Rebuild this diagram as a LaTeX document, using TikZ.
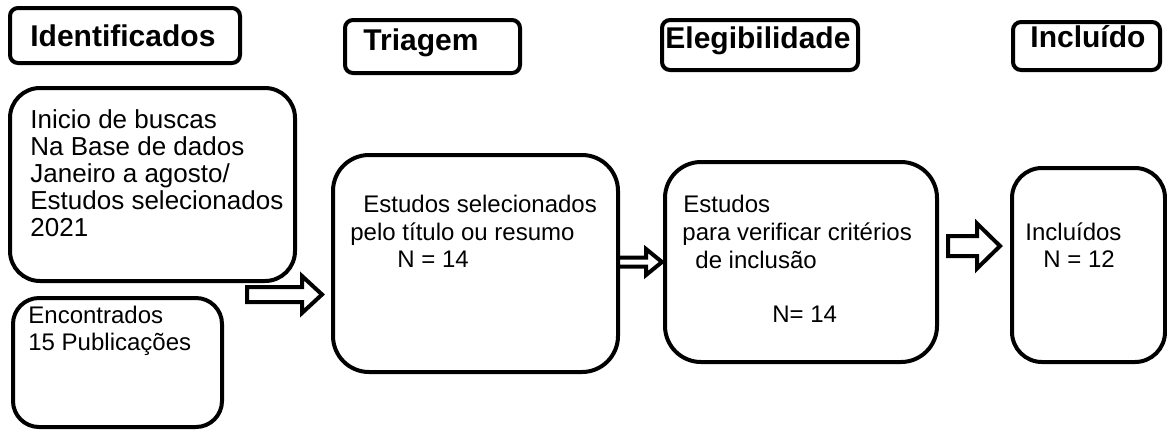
\documentclass[tikz,border=0pt]{standalone}
\usepackage{fontspec}
\setmainfont{Liberation Sans}
\usetikzlibrary{calc}
\tikzset{
  hdrbox/.style={draw, line width=2pt, rounded corners=4pt, inner sep=0pt},
  flowbox/.style={draw, line width=2pt, rounded corners=16pt, inner sep=0pt},
  hdrtext/.style={anchor=base west, inner sep=0pt, font=\fontsize{15pt}{18pt}\selectfont\bfseries},
  bigtext/.style={anchor=base west, inner sep=0pt, font=\fontsize{13pt}{15.5pt}\selectfont},
  txt/.style={anchor=base west, inner sep=0pt, font=\fontsize{12pt}{14pt}\selectfont},
  arrowline/.style={draw, line width=2pt, fill=white}
}
\newcommand{\flowarrow}[5]{%
  \draw[arrowline] ($(#1)+(0,-#3)$) -- ($(#2)+(-#5,-#3)$) -- ($(#2)+(-#5,-#4)$) -- (#2)
    -- ($(#2)+(-#5,#4)$) -- ($(#2)+(-#5,#3)$) -- ($(#1)+(0,#3)$) -- cycle;}
\begin{document}
\begin{tikzpicture}[x=0.5pt,y=-0.5pt]
\useasboundingbox (0,0) rectangle (1167,430);
% header boxes
\node[hdrbox, minimum width=115pt, minimum height=27.5pt] (h1) at (125,35.5) {};
\node[hdrbox, minimum width=87.5pt, minimum height=26.5pt] (h2) at (432.5,46.5) {};
\node[hdrbox, minimum width=98pt, minimum height=25pt] (h3) at (760,45) {};
\node[hdrbox, minimum width=73.5pt, minimum height=24pt] (h4) at (1086.5,46) {};
\node[hdrtext] (h1t) at (30,46) {Identificados};
\node[hdrtext] (h2t) at (363,50) {Triagem};
\node[hdrtext] (h3t) at (665,48) {Elegibilidade};
\node[hdrtext] (h4t) at (1030,47) {Incluído};
% main boxes
\node[flowbox, rounded corners=15pt, minimum width=142.5pt, minimum height=96.5pt] (b1) at (152.5,184.5) {};
\node[flowbox, rounded corners=13pt, minimum width=104.5pt, minimum height=64.5pt] (b2) at (117.5,362.5) {};
\node[flowbox, rounded corners=18pt, minimum width=142.5pt, minimum height=108.5pt] (b3) at (475.5,263.5) {};
\node[flowbox, rounded corners=18pt, minimum width=136pt, minimum height=100pt] (b4) at (801,262) {};
\node[flowbox, rounded corners=15pt, minimum width=76.5pt, minimum height=97pt] (b5) at (1088.5,265) {};
% texts
\node[bigtext] (t1a) at (30,128) {Inicio de buscas};
\node[bigtext] (t1b) at (30,155) {Na Base de dados};
\node[bigtext] (t1c) at (30,182) {Janeiro a agosto/};
\node[bigtext] (t1d) at (30,209) {Estudos selecionados};
\node[bigtext] (t1e) at (30,236) {2021};
\node[txt] (t2a) at (28,323) {Encontrados};
\node[txt] (t2b) at (28,350) {15 Publicações};
\node[txt] (t3a) at (363,212) {Estudos selecionados};
\node[txt] (t3b) at (350,240) {pelo título ou resumo};
\node[txt] (t3c) at (397,267) {N = 14};
\node[txt] (t4a) at (683,212) {Estudos};
\node[txt] (t4b) at (682,240) {para verificar critérios};
\node[txt] (t4c) at (695,268) {de inclusão};
\node[txt] (t4d) at (772,322) {N= 14};
\node[txt] (t5a) at (1025,240) {Incluídos};
\node[txt] (t5b) at (1043,267) {N = 12};
% block arrows
\coordinate (a1s) at (247,294.5);
\coordinate (a1t) at (322,294.5);
\coordinate (a2s) at (618,262);
\coordinate (a2t) at (662,262);
\coordinate (a3s) at (948,246);
\coordinate (a3t) at (1000,246);
\flowarrow{a1s}{a1t}{7.5}{18.5}{20}
\flowarrow{a2s}{a2t}{4.5}{13}{16}
\flowarrow{a3s}{a3t}{10}{22.5}{23}
\end{tikzpicture}
\end{document}
